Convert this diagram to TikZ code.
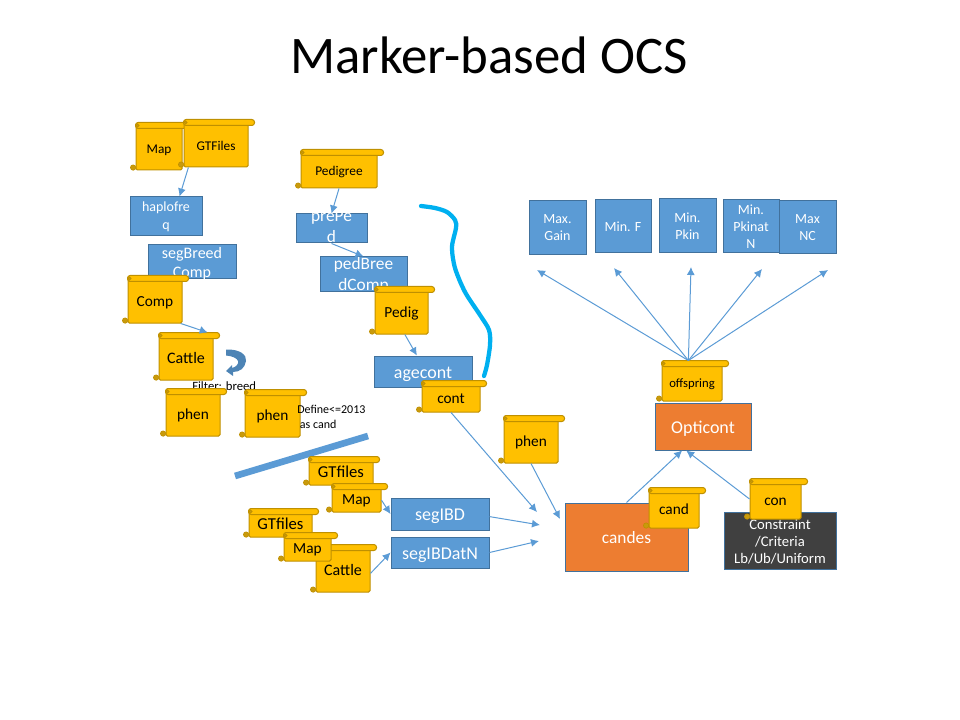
\documentclass[tikz,border=0pt]{standalone}
\usepackage{fontspec}
\setmainfont{Carlito}
\usetikzlibrary{arrows.meta}

\definecolor{scrollgold}{HTML}{FFC000}
\definecolor{scrolledge}{HTML}{BF9000}
\definecolor{scrollcurl}{HTML}{C99A0C}
\definecolor{boxblue}{HTML}{5B9BD5}
\definecolor{boxedge}{HTML}{41719C}
\definecolor{boxorange}{HTML}{ED7D31}
\definecolor{boxdark}{HTML}{404040}
\definecolor{inkcyan}{HTML}{00B0F0}

\tikzset{
	wh/.style 2 args={minimum width=#1*0.75pt,minimum height=#2*0.75pt},
	lowered/.style={text height=1.2em,text depth=0.2em},
	scroll/.style={draw=scrolledge,fill=scrollgold,line width=0.75pt,inner sep=0pt,rounded corners=1pt,lowered,font=\fontsize{11.5}{14}\selectfont},
	smallscroll/.style={scroll,font=\fontsize{10}{12}\selectfont},
	bluebox/.style={draw=boxedge,fill=boxblue,text=white,line width=0.75pt,inner sep=0pt,font=\fontsize{13.5}{16}\selectfont},
	goalbox/.style={bluebox,wh={57}{54},align=center,font=\fontsize{10.5}{12.75}\selectfont},
	orangebox/.style={bluebox,fill=boxorange,lowered,font=\fontsize{13.5}{16}\selectfont},
	flow/.style={draw=boxblue,line width=0.75pt,-{Latex[length=6pt,width=6pt]}},
	note/.style={inner sep=0pt,align=left,font=\fontsize{9}{11.25}\selectfont}
}

% the bar on top and the curl at the foot of a scroll
\newcommand{\scrollparts}[1]{
	\draw[draw=scrolledge,fill=scrollgold,line width=0.75pt,rounded corners=2pt] (#1.north west) rectangle ([xshift=4.5pt,yshift=-4.5pt]#1.north east);
	\filldraw[draw=scrolledge,fill=scrollcurl,line width=0.5pt] ([xshift=1.5pt,yshift=-2.2pt]#1.north west) circle (1.2pt);
	\filldraw[draw=scrolledge,fill=scrollcurl,line width=0.5pt] ([xshift=-1.8pt,yshift=2.2pt]#1.south west) circle (2pt);
}
% lines that may stick out of their box
\newcommand{\spill}[2][-3pt]{\raisebox{#1}[0pt][0pt]{\begin{tabular}[c]{@{}c@{}}#2\end{tabular}}}

\begin{document}
\begin{tikzpicture}[x=0.75pt,y=-0.75pt]
	\useasboundingbox (0,0) rectangle (960,720);

	\node[inner sep=0pt,font=\fontsize{39.6}{44}\selectfont] (title) at (489,55) {Marker-based OCS};

	% left column
	\node[scroll,smallscroll,wh={46}{47}] (mapA) at (159,146.5) {Map};
	\scrollparts{mapA}
	\node[scroll,smallscroll,wh={64}{47}] (gtFiles) at (216,143.5) {GTFiles};
	\scrollparts{gtFiles}
	\node[bluebox,wh={72}{39},font=\fontsize{10.5}{13.5}\selectfont] (haplofreq) at (166,216.5) {\spill{haplofre\\q}};
	\node[bluebox,wh={88}{34},font=\fontsize{12}{14.5}\selectfont] (segBreed) at (192,262) {\spill[-4.5pt]{segBreed\\Comp}};
	\node[scroll,wh={54}{47}] (comp) at (155,299.5) {Comp};
	\scrollparts{comp}
	\node[scroll,wh={54}{47},font=\fontsize{12}{14}\selectfont] (cattleA) at (186,356.5) {Cattle};
	\scrollparts{cattleA}
	\fill[boxblue!85!black] (226,349.5) .. controls (240,349) and (247,355) .. (246,361) .. controls (245,368) and (240,372) .. (233,372) -- (233,376) -- (226,371) -- (232,365) -- (232,368) .. controls (236,367) and (239,364) .. (238,361) .. controls (237,358) and (232,356) .. (226,355.5) -- cycle;
	\node[note,anchor=west,font=\fontsize{9.5}{11.25}\selectfont] (filter) at (192,386.5) {Filter: breed};
	\node[scroll,wh={54}{47}] (phenA) at (193,412.5) {phen};
	\scrollparts{phenA}
	\node[scroll,wh={55}{47}] (phenB) at (272.5,413.5) {phen};
	\scrollparts{phenB}
	\node[note,anchor=west] (define) at (297,417) {Define<=2013\\\hspace*{2pt}as cand};

	% middle column
	\node[scroll,smallscroll,wh={76}{38}] (pedigree) at (339,169) {Pedigree};
	\scrollparts{pedigree}
	\node[bluebox,wh={71}{29},font=\fontsize{13}{16}\selectfont] (prePed) at (331.5,228.5) {\spill[-2.5pt]{prePe\\d}};
	\node[bluebox,wh={87}{35},font=\fontsize{13}{16}\selectfont] (pedBreed) at (363.5,274.5) {\spill[-4pt]{pedBree\\dComp}};
	\node[scroll,wh={53}{47}] (pedig) at (401.5,310.5) {Pedig};
	\scrollparts{pedig}
	\node[bluebox,lowered,wh={98}{31}] (agecont) at (423,371.5) {agecont};
	\node[scroll,wh={58}{31}] (cont) at (451,396.5) {cont};
	\scrollparts{cont}
	\draw[inkcyan,line width=3.2pt,line cap=round] plot[smooth] coordinates {(421,206) (435,208) (447,212) (455,220) (456,228) (452,247) (455,268) (465,292) (480,315) (489,330) (490,345) (487,365) (484,376)};

	\coordinate (barStart) at (235,476);
	\coordinate (barEnd) at (368,436);
	\draw[boxblue,line width=5pt] (barStart) -- (barEnd);

	% lower group
	\node[scroll,wh={64}{28},font=\fontsize{12.5}{14}\selectfont] (gtfilesA) at (341,471) {GTfiles};
	\scrollparts{gtfilesA}
	\node[scroll,wh={49}{28}] (mapB) at (356.5,498) {Map};
	\scrollparts{mapB}
	\node[scroll,wh={63}{28},font=\fontsize{12.5}{14}\selectfont] (gtfilesB) at (280.5,523) {GTfiles};
	\scrollparts{gtfilesB}
	\node[scroll,wh={54}{47},font=\fontsize{12}{14}\selectfont] (cattleB) at (343,568.5) {Cattle};
	\scrollparts{cattleB}
	\node[scroll,wh={47}{28}] (mapC) at (307.5,547) {Map};
	\scrollparts{mapC}
	\node[bluebox,lowered,wh={98}{32}] (segIBD) at (440,514) {segIBD};
	\node[bluebox,lowered,wh={98}{31}] (segIBDatN) at (440,552.5) {segIBDatN};

	\node[scroll,wh={54}{47}] (phenC) at (531,439.5) {phen};
	\scrollparts{phenC}

	% right side
	\node[goalbox] (maxGain) at (557.5,228) {Max.\\Gain};
	\node[goalbox,wh={56}{53}] (minF) at (623,226.5) {Min. F};
	\node[goalbox,wh={57}{54}] (minPkin) at (687.5,226) {Min.\\Pkin};
	\node[goalbox,wh={56}{53}] (minPkinat) at (751,226.5) {Min.\\Pkinat\\N};
	\node[goalbox,wh={57}{53}] (maxNC) at (807.5,227.5) {Max\\NC};

	\node[scroll,wh={60}{40},font=\fontsize{9.5}{12}\selectfont] (offspring) at (692,381) {offspring};
	\scrollparts{offspring}
	\node[orangebox,wh={96}{47}] (opticont) at (703,426.5) {Opticont};
	\node[orangebox,wh={123}{68},font=\fontsize{13}{16}\selectfont] (candes) at (626.5,537) {candes};
	\node[scroll,wh={50}{40}] (cand) at (674,508) {cand};
	\scrollparts{cand}
	\node[bluebox,fill=boxdark,wh={112}{57},font=\fontsize{11}{12.75}\selectfont] (constraint) at (780,540.5) {\spill[-4.5pt]{Constraint\\/Criteria\\Lb/Ub/Uniform}};
	\node[scroll,wh={51}{40}] (con) at (775.5,499) {con};
	\scrollparts{con}

	% free ends
	\coordinate (gainEnd) at (537,270);
	\coordinate (fEnd) at (614,268);
	\coordinate (pkinEnd) at (691,267);
	\coordinate (pkinatEnd) at (762,269);
	\coordinate (ncEnd) at (828,270);
	\coordinate (contEnd) at (537,512);
	\coordinate (ibdEnd) at (540,525);
	\coordinate (ibdatnEnd) at (539,541);
	\coordinate (phenEnd) at (560,519);

	% connectors
	\draw[flow] (gtFiles.221) -- (haplofreq.56);
	\draw[flow] (pedigree.south) -- (prePed.north);
	\draw[flow] (prePed.south) -- (pedBreed.north);
	\draw[flow] (comp.-43) -- (cattleA.48);
	\draw[flow] (pedig.-82) -- (agecont.111);
	\draw[flow] (cont.south) -- (contEnd);
	\draw[flow] (segIBD.-3) -- (ibdEnd);
	\draw[flow] (segIBDatN.east) -- (ibdatnEnd);
	\draw[flow] (mapB.-5) -- (segIBD.west);
	\draw[flow] (cattleB.-10) -- (segIBDatN.west);
	\draw[flow] (phenC.south) -- (phenEnd);
	\draw[flow] (candes.north) -- (opticont.229);
	\draw[flow] (con.west) -- (opticont.235);
	\foreach \goalEnd in {gainEnd,fEnd,pkinEnd,pkinatEnd,ncEnd}
		\draw[flow] (offspring.100) -- (\goalEnd);
\end{tikzpicture}
\end{document}
